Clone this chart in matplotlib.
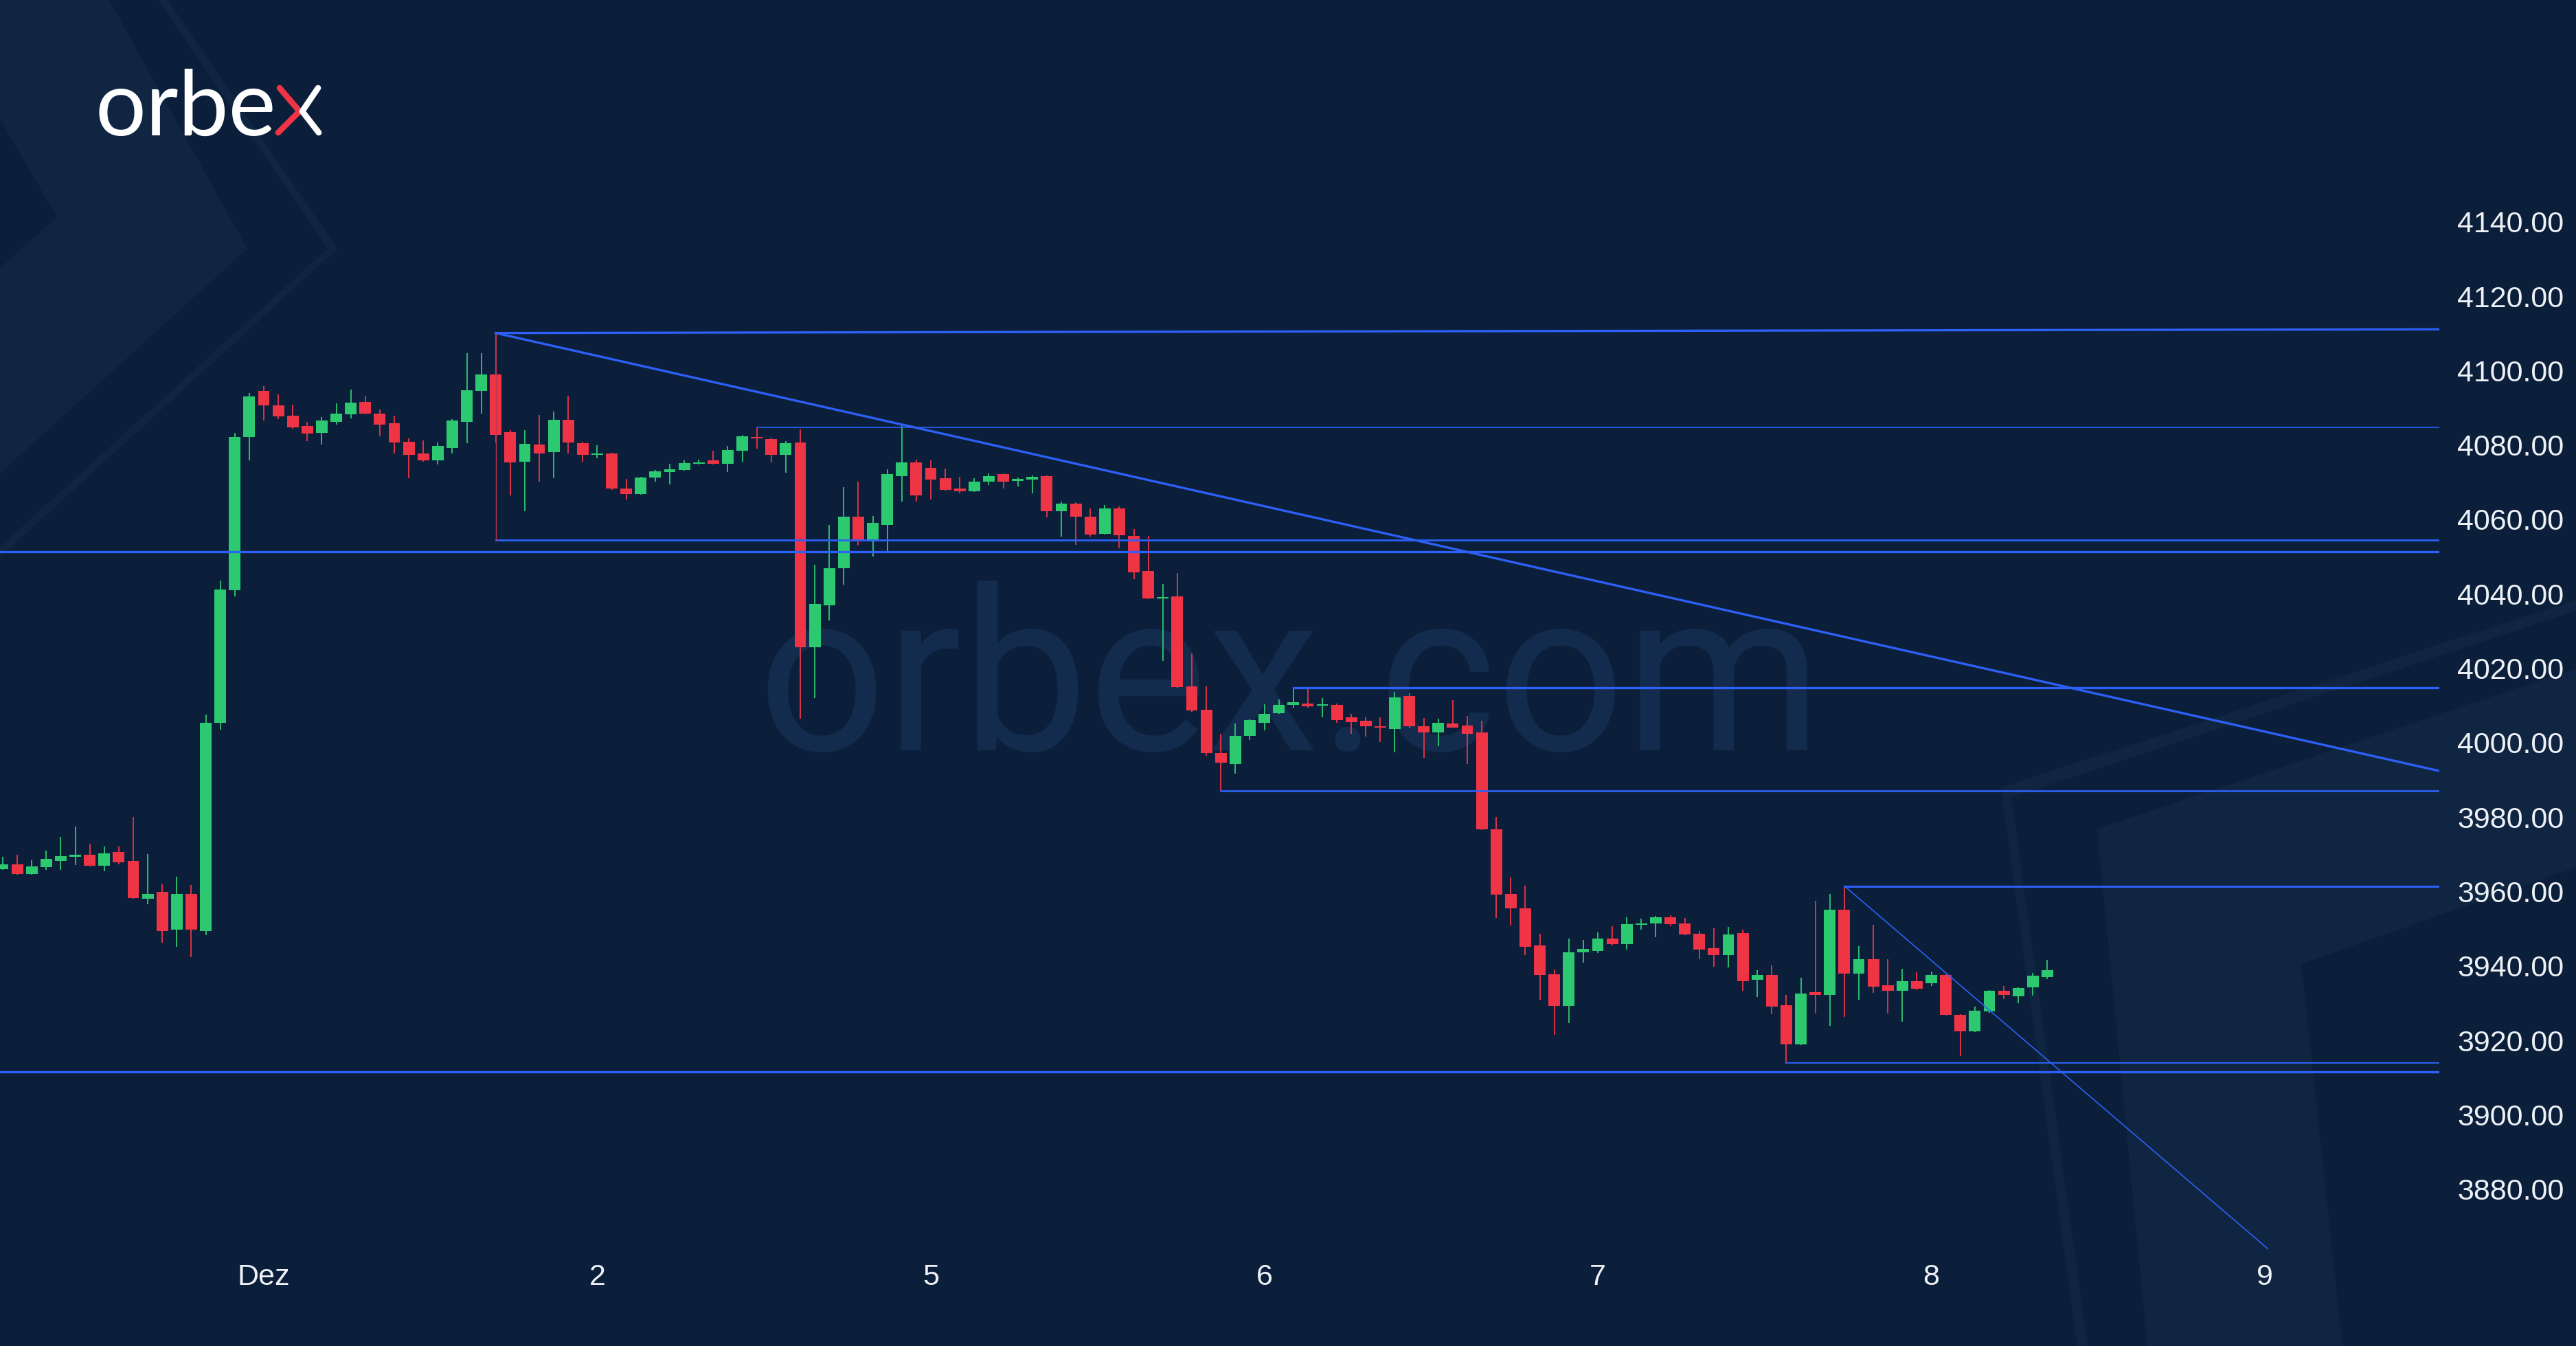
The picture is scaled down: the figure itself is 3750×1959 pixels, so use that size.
import matplotlib
matplotlib.use('Agg')
import matplotlib.pyplot as plt
import numpy as np

# hourly candles, one per trading hour
opens = [3966.0, 3967.3, 3964.7, 3966.5, 3968.2, 3969.4, 3969.9, 3967.0, 3970.7, 3968.2,
         3958.0, 3959.9, 3949.7, 3959.3, 3949.4, 4005.3, 4041.0, 4082.1, 4094.5, 4090.7,
         4087.9, 4085.2, 4083.2, 4086.3, 4088.2, 4091.6, 4088.5, 4085.8, 4080.9, 4077.8,
         4075.8, 4079.2, 4086.3, 4094.5, 4099.0, 4083.4, 4075.5, 4080.2, 4078.1, 4086.8,
         4080.5, 4077.4, 4077.8, 4068.4, 4066.8, 4071.2, 4072.7, 4073.3, 4075.0, 4075.8,
         4074.9, 4078.4, 4082.2, 4081.6, 4077.3, 4080.7, 4025.6, 4037.0, 4046.9, 4060.8,
         4054.0, 4058.5, 4071.7, 4075.4, 4073.8, 4071.0, 4068.4, 4067.6, 4070.1, 4072.1,
         4070.3, 4070.7, 4071.7, 4062.3, 4064.2, 4060.8, 4056.2, 4063.0, 4055.6, 4046.1,
         4038.8, 4039.3, 4015.1, 4008.9, 3997.3, 3994.3, 4001.8, 4005.3, 4007.9, 4010.1,
         4010.6, 4009.9, 4010.1, 4006.8, 4005.9, 4004.5, 4003.6, 4012.6, 4004.5, 4002.7,
         4005.2, 4004.6, 4002.7, 3976.7, 3959.4, 3955.4, 3945.5, 3937.7, 3929.2, 3943.6,
         3944.1, 3947.4, 3945.8, 3951.1, 3951.5, 3953.1, 3951.5, 3948.7, 3944.8, 3942.9,
         3948.9, 3936.2, 3937.5, 3929.5, 3918.9, 3933.0, 3932.2, 3955.1, 3937.9, 3941.8,
         3934.8, 3933.3, 3935.9, 3935.3, 3937.5, 3926.8, 3922.5, 3927.7, 3933.3, 3931.9,
         3934.2, 3937.1]
closes = [3967.3, 3964.7, 3966.7, 3968.7, 3969.6, 3969.7, 3967.0, 3970.3, 3967.9, 3958.2,
          3959.3, 3949.4, 3959.3, 3949.7, 4005.3, 4041.1, 4082.1, 4093.0, 4090.6, 4087.7,
          4084.8, 4083.1, 4086.5, 4088.5, 4091.4, 4088.5, 4085.5, 4080.7, 4077.3, 4075.8,
          4079.8, 4086.5, 4094.8, 4099.0, 4082.8, 4075.3, 4080.4, 4077.8, 4086.8, 4080.7,
          4077.3, 4077.8, 4068.4, 4066.8, 4071.2, 4073.0, 4073.5, 4075.2, 4075.4, 4074.9,
          4078.6, 4082.3, 4081.8, 4077.3, 4080.5, 4025.6, 4037.3, 4046.9, 4060.8, 4054.0,
          4059.1, 4072.1, 4075.3, 4066.4, 4070.7, 4068.0, 4067.6, 4070.1, 4071.7, 4070.1,
          4070.9, 4071.5, 4062.3, 4064.2, 4060.7, 4055.9, 4063.0, 4055.7, 4045.8, 4038.7,
          4039.1, 4015.0, 4008.7, 3997.3, 3994.6, 4001.8, 4006.0, 4007.8, 4010.1, 4010.8,
          4009.8, 4010.1, 4006.0, 4005.5, 4004.5, 4004.0, 4012.2, 4004.5, 4002.7, 4005.4,
          4004.1, 4002.4, 3976.7, 3959.1, 3955.4, 3945.2, 3937.5, 3929.2, 3943.6, 3944.5,
          3947.4, 3945.8, 3951.3, 3951.3, 3953.1, 3951.3, 3948.5, 3944.4, 3943.0, 3948.5,
          3935.9, 3937.5, 3929.1, 3918.9, 3932.6, 3932.2, 3955.1, 3937.9, 3941.8, 3934.5,
          3933.3, 3935.9, 3933.8, 3937.5, 3926.8, 3922.5, 3927.9, 3933.3, 3932.2, 3934.0,
          3937.4, 3938.8]
highs = [3969.4, 3969.9, 3968.5, 3971.0, 3974.7, 3977.5, 3972.9, 3972.1, 3972.1, 3980.0,
         3970.1, 3962.0, 3964.0, 3961.7, 4007.5, 4043.6, 4083.3, 4094.0, 4095.9, 4093.6,
         4090.8, 4086.3, 4087.5, 4091.2, 4094.9, 4093.2, 4089.5, 4087.9, 4081.8, 4081.3,
         4080.7, 4087.0, 4104.7, 4104.7, 4110.1, 4084.0, 4084.0, 4088.1, 4089.0, 4093.3,
         4080.8, 4079.9, 4078.0, 4070.9, 4071.4, 4073.3, 4075.0, 4075.8, 4076.0, 4078.4,
         4079.7, 4082.8, 4084.8, 4082.0, 4081.0, 4084.2, 4047.9, 4058.6, 4068.7, 4070.1,
         4061.0, 4073.5, 4085.5, 4076.0, 4075.8, 4073.6, 4071.5, 4071.1, 4072.4, 4072.4,
         4071.3, 4071.8, 4071.9, 4064.8, 4064.6, 4063.0, 4063.9, 4063.5, 4057.5, 4055.6,
         4042.7, 4045.6, 4024.0, 4015.2, 4002.4, 4005.2, 4006.3, 4010.3, 4011.7, 4014.7,
         4014.4, 4011.9, 4010.5, 4007.7, 4006.8, 4006.9, 4013.7, 4013.2, 4006.6, 4006.5,
         4011.5, 4007.2, 4005.9, 3980.1, 3963.8, 3961.5, 3948.6, 3939.1, 3947.4, 3947.0,
         3949.0, 3950.7, 3953.0, 3952.8, 3953.5, 3953.6, 3952.9, 3949.3, 3950.2, 3950.5,
         3949.7, 3938.9, 3940.2, 3932.2, 3936.8, 3957.6, 3959.3, 3961.5, 3945.4, 3951.0,
         3941.8, 3939.3, 3938.3, 3938.5, 3937.8, 3927.0, 3929.1, 3933.5, 3934.6, 3934.2,
         3938.2, 3941.6]
lows = [3965.8, 3964.5, 3964.5, 3965.9, 3965.9, 3967.1, 3966.8, 3965.4, 3967.3, 3958.0,
        3956.5, 3946.3, 3945.1, 3942.3, 3948.2, 4003.5, 4039.3, 4075.9, 4086.5, 4086.9,
        4084.4, 4081.1, 4080.2, 4085.5, 4087.1, 4088.2, 4082.4, 4077.8, 4071.1, 4075.6,
        4074.7, 4077.8, 4080.5, 4088.5, 4080.5, 4066.4, 4062.3, 4070.1, 4071.0, 4077.8,
        4075.6, 4076.5, 4067.9, 4065.3, 4066.6, 4070.1, 4069.5, 4073.1, 4074.8, 4074.7,
        4072.8, 4075.6, 4079.0, 4075.4, 4072.5, 4006.4, 4012.0, 4032.8, 4042.4, 4053.0,
        4050.1, 4051.4, 4064.8, 4064.8, 4065.4, 4067.7, 4067.0, 4067.4, 4069.3, 4068.4,
        4068.8, 4067.0, 4060.5, 4055.3, 4053.2, 4055.3, 4056.0, 4052.3, 4044.0, 4038.5,
        4021.9, 4014.8, 4008.3, 3996.5, 3987.1, 3991.7, 4000.8, 4003.4, 4007.7, 4009.4,
        4009.4, 4006.9, 4005.3, 4002.4, 4001.6, 4000.2, 3997.4, 4003.8, 3996.0, 3999.0,
        4004.0, 3994.2, 3976.5, 3952.9, 3950.9, 3943.0, 3931.0, 3921.5, 3924.6, 3940.9,
        3943.5, 3945.6, 3944.4, 3949.7, 3947.8, 3950.6, 3948.3, 3941.8, 3939.8, 3939.6,
        3933.4, 3931.6, 3927.0, 3913.7, 3918.7, 3927.3, 3923.9, 3926.3, 3931.0, 3932.8,
        3927.3, 3925.1, 3933.5, 3934.6, 3926.6, 3915.7, 3922.3, 3927.5, 3931.1, 3930.0,
        3932.0, 3936.5]

day_ticks = [18, 41, 64, 87, 110, 133, 156]
day_labels = ['Dez', '2', '5', '6', '7', '8', '9']
price_ticks = np.arange(3880, 4141, 20)

# horizontal levels drawn on the chart: start candle and price
level_start = [-0.2, 34, 52, 89, 84, 127, 123, -0.2]
level_price = [4051.4, 4054.4, 4084.8, 4014.7, 3987.0, 3961.4, 3913.9, 3911.6]
# sloped lines: (x0, y0, x1, y1) in candle / price units
top_line = [34, 4110.1, 168.03, 4111.1]
trend_main = [34, 4110.1, 168.03, 3992.4]
trend_short = [127, 3961.5, 156.2, 3864.0]

BG = '#0b1f3b'
LIGHT = '#0f2542'
GREEN = '#2dc970'
RED = '#ef3446'
BLUE = '#2d60f6'

W, H = 3750, 1959
fig = plt.figure(figsize=(W / 100, H / 100), dpi=100, facecolor=BG)

# background decoration in pixel space
bg = fig.add_axes([0, 0, 1, 1], zorder=0)
bg.set_xlim(0, W)
bg.set_ylim(H, 0)
bg.axis('off')
bg.set_facecolor(BG)
shapes = [
    [(0, 0), (159, 0), (360, 362), (0, 689), (0, 390), (83, 316), (0, 173)],
    [(230, 0), (244, 0), (491, 362), (0, 811), (0, 796), (477, 362)],
    [(3750, 873), (2913, 1146), (3024, 1959), (3039, 1959), (2928, 1160), (3750, 889)],
    [(3053, 1206), (3750, 973), (3750, 1262), (3350, 1403), (3410, 1959), (3126, 1959)],
]
for s in shapes:
    bg.add_patch(plt.Polygon(s, closed=True, fc=LIGHT, ec='none'))

bg.text(1878, 1092, 'orbex.com', color='#132b4d', fontsize=236,
        family='Roboto', fontweight='normal', ha='center', va='baseline')

# logo
bg.text(138, 197, 'orbe', color='white', fontsize=94, family='Lato',
        ha='left', va='baseline')
bg.plot([407, 436, 405], [128, 162, 193], color=RED, lw=6.2,
        solid_capstyle='round', solid_joinstyle='round')
bg.plot([463, 440, 464], [128, 162, 193], color='white', lw=6.2,
        solid_capstyle='round', solid_joinstyle='round')

# price chart
ax = fig.add_axes([0, 0.0684, 3551 / W, 0.9316], zorder=1)
ax.patch.set_alpha(0)
x = np.arange(len(opens))
o = np.array(opens)
c = np.array(closes)
colors = [GREEN if cc >= oo else RED for oo, cc in zip(o, c)]
ax.vlines(x, lows, highs, colors=colors, lw=1.3, zorder=2)
body = np.maximum(np.abs(c - o), 0.4)
ax.bar(x, body, bottom=np.minimum(o, c), width=0.8, color=colors,
       linewidth=0, zorder=3)

# drawings
x_end = 168.03
widths = [2.4, 2.0, 1.2, 2.4, 1.9, 2.2, 1.45, 2.4]
for xs, p, lw in zip(level_start, level_price, widths):
    ax.plot([xs, x_end], [p, p], color=BLUE, lw=lw, zorder=4)
ax.plot([34, 34], [4054.4, 4110.1], color='#b8344f', lw=1.0, zorder=4)
ax.plot(top_line[0::2], top_line[1::2], color=BLUE, lw=2.4, zorder=4)
ax.plot(trend_main[0::2], trend_main[1::2], color=BLUE, lw=2.4, zorder=4)
ax.plot(trend_short[0::2], trend_short[1::2], color=BLUE, lw=1.2, zorder=4,
        clip_on=False)

ax.set_xlim(-0.19, 168.03)
ax.set_ylim(3862.6, 4199.6)
for sp in ax.spines.values():
    sp.set_visible(False)
ax.yaxis.tick_right()
ax.set_yticks(price_ticks)
ax.set_yticklabels(['%.2f' % v for v in price_ticks])
ax.set_xticks(day_ticks)
ax.set_xticklabels(day_labels)
ax.tick_params(axis='y', length=0, pad=19, labelsize=31, labelcolor='#eef1f6')
ax.tick_params(axis='x', length=0, pad=10, labelsize=31, labelcolor='#eef1f6')
for lab in ax.get_xticklabels() + ax.get_yticklabels():
    lab.set_family('Liberation Sans')
for lab in ax.get_yticklabels():
    lab.set_horizontalalignment('left')

fig.savefig('out.png', dpi=100, facecolor=BG)
